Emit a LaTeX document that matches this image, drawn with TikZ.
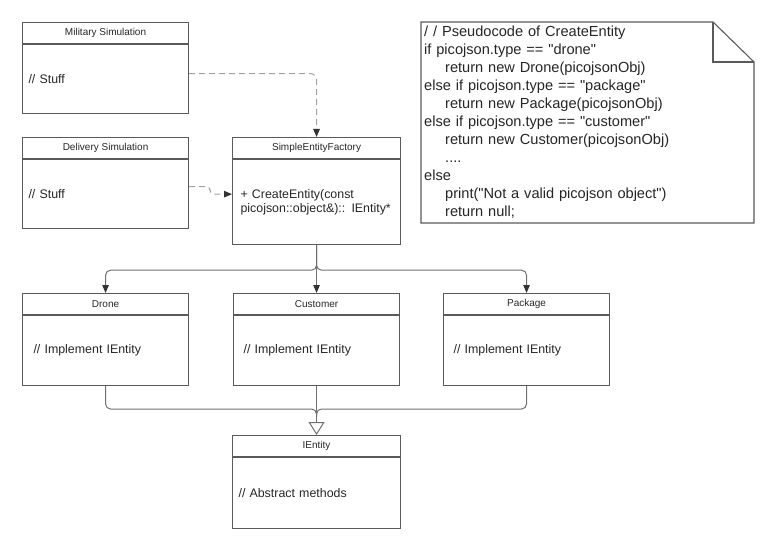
\documentclass[tikz,border=0pt]{standalone}
\usepackage{fontspec}
\setmainfont{Liberation Sans}
\newfontfamily\notefont{Liberation Sans}[Ligatures=NoCommon]
\usetikzlibrary{arrows.meta,calc}
\definecolor{boxc}{HTML}{5A5A5A}
\definecolor{linec}{HTML}{707070}
\definecolor{dashc}{HTML}{A3A3A3}
\definecolor{txtc}{HTML}{262626}
\definecolor{arrc}{HTML}{333333}
\begin{document}
\begin{tikzpicture}[x=1pt,y=-1pt,
  hdr/.style={draw=boxc, line width=1.1pt, minimum width=#1, minimum height=21pt,
    inner sep=0pt, anchor=north west, font=\fontsize{10}{12}\selectfont, text=txtc},
  hdr/.default=166pt,
  bodyb/.style={draw=boxc, line width=1.1pt, minimum height=#1, inner ysep=0pt,
    anchor=north west, align=left, font=\fontsize{12.4}{14}\selectfont, text=txtc},
  pad/.style 2 args={inner xsep=#1, text width=#2},
  conn/.style={draw=linec, line width=1pt},
  arr/.style={-{Triangle[length=8pt,width=6.5pt,color=arrc]}},
  dsh/.style={draw=dashc, line width=1pt, dash pattern=on 6pt off 4pt,
    -{Triangle[length=8pt,width=6.5pt,color=arrc]}},
  notetxt/.style={anchor=north west, inner sep=0pt, align=left, text width=320pt,
    font=\notefont\fontsize{14.6}{18}\selectfont, text=txtc}
]
\useasboundingbox (0,0) rectangle (776,548);

% Military Simulation
\node[hdr] (milh) at (22,22) {Military Simulation};
\node[bodyb=69pt, pad={6pt}{154pt}] (milb) at (milh.south west) {// Stuff};

% Delivery Simulation
\node[hdr] (delh) at (22,137) {Delivery Simulation};
\node[bodyb=69pt, pad={6pt}{154pt}] (delb) at (delh.south west) {// Stuff};

% SimpleEntityFactory
\node[hdr=168pt] (facth) at (232,137) {SimpleEntityFactory};
\node[bodyb=85pt, pad={8pt}{152pt}, font=\fontsize{12.4}{14.5}\selectfont] (factb) at (facth.south west)
  {+ CreateEntity(const\\picojson::object\&):: IEntity*};

% Drone, Customer, Package
\node[hdr] (drh) at (22,293) {Drone};
\node[bodyb=70pt, pad={11pt}{144pt}] (drb) at (drh.south west) {// Implement IEntity};
\node[hdr] (cush) at (233,293) {Customer};
\node[bodyb=70pt, pad={10pt}{146pt}] (cusb) at (cush.south west) {// Implement IEntity};
\node[hdr] (pkh) at (443,293) {Package};
\node[bodyb=70pt, pad={10pt}{146pt}] (pkb) at (pkh.south west) {// Implement IEntity};

% IEntity
\node[hdr=168pt] (ienth) at (232,435) {IEntity};
\node[bodyb=71pt, pad={6pt}{156pt}] (ientb) at (ienth.south west) {// Abstract methods};

% Note
\draw[draw=boxc, line width=1.1pt, fill=white]
  (421,22) -- (713,22) -- (754,62) -- (754,223) -- (421,223) -- cycle;
\draw[draw=boxc, line width=1.1pt] (713,22) -- (713,62) -- (754,62);
\node[notetxt] (note) at (424,25.5) {%
/ / Pseudocode of CreateEntity\\
if picojson.type == "drone"\\
\hspace*{21pt}return new Drone(picojsonObj)\\
else if picojson.type == "package"\\
\hspace*{21pt}return new Package(picojsonObj)\\
else if picojson.type == "customer"\\
\hspace*{21pt}return new Customer(picojsonObj)\\
\hspace*{21pt}....\\
else\\
\hspace*{21pt}print("Not a valid picojson object")\\
\hspace*{21pt}return null;};

% Dashed dependencies
\draw[dsh, rounded corners=6pt] ([yshift=5.5pt]milb.east) -| (facth.north);
\draw[dsh, rounded corners=4pt] ([yshift=7.5pt]delb.east) -- ++(21,0) |- ([yshift=8pt]factb.west);

% Factory to products
\coordinate (tj) at ($(factb.south)+(0,25)$);
\draw[conn, arr, rounded corners=5pt] (factb.south) -- (tj) -| (drh.north);
\draw[conn, arr, rounded corners=5pt] (factb.south) -- (tj) -| (pkh.north);
\draw[conn, arr] (factb.south) -- (cush.north);

% Products to IEntity
\coordinate (bj) at ($(ienth.north)+(0,-26)$);
\coordinate (bj2) at ($(bj)+(0,8)$);
\draw[conn, rounded corners=5pt] (drb.south) |- (bj) -- (bj2);
\draw[conn, rounded corners=5pt] (pkb.south) |- (bj) -- (bj2);
\draw[conn, -{Triangle[open,length=13pt,width=16pt,fill=white,color=linec]}] (cusb.south) -- (ienth.north);
\end{tikzpicture}
\end{document}
